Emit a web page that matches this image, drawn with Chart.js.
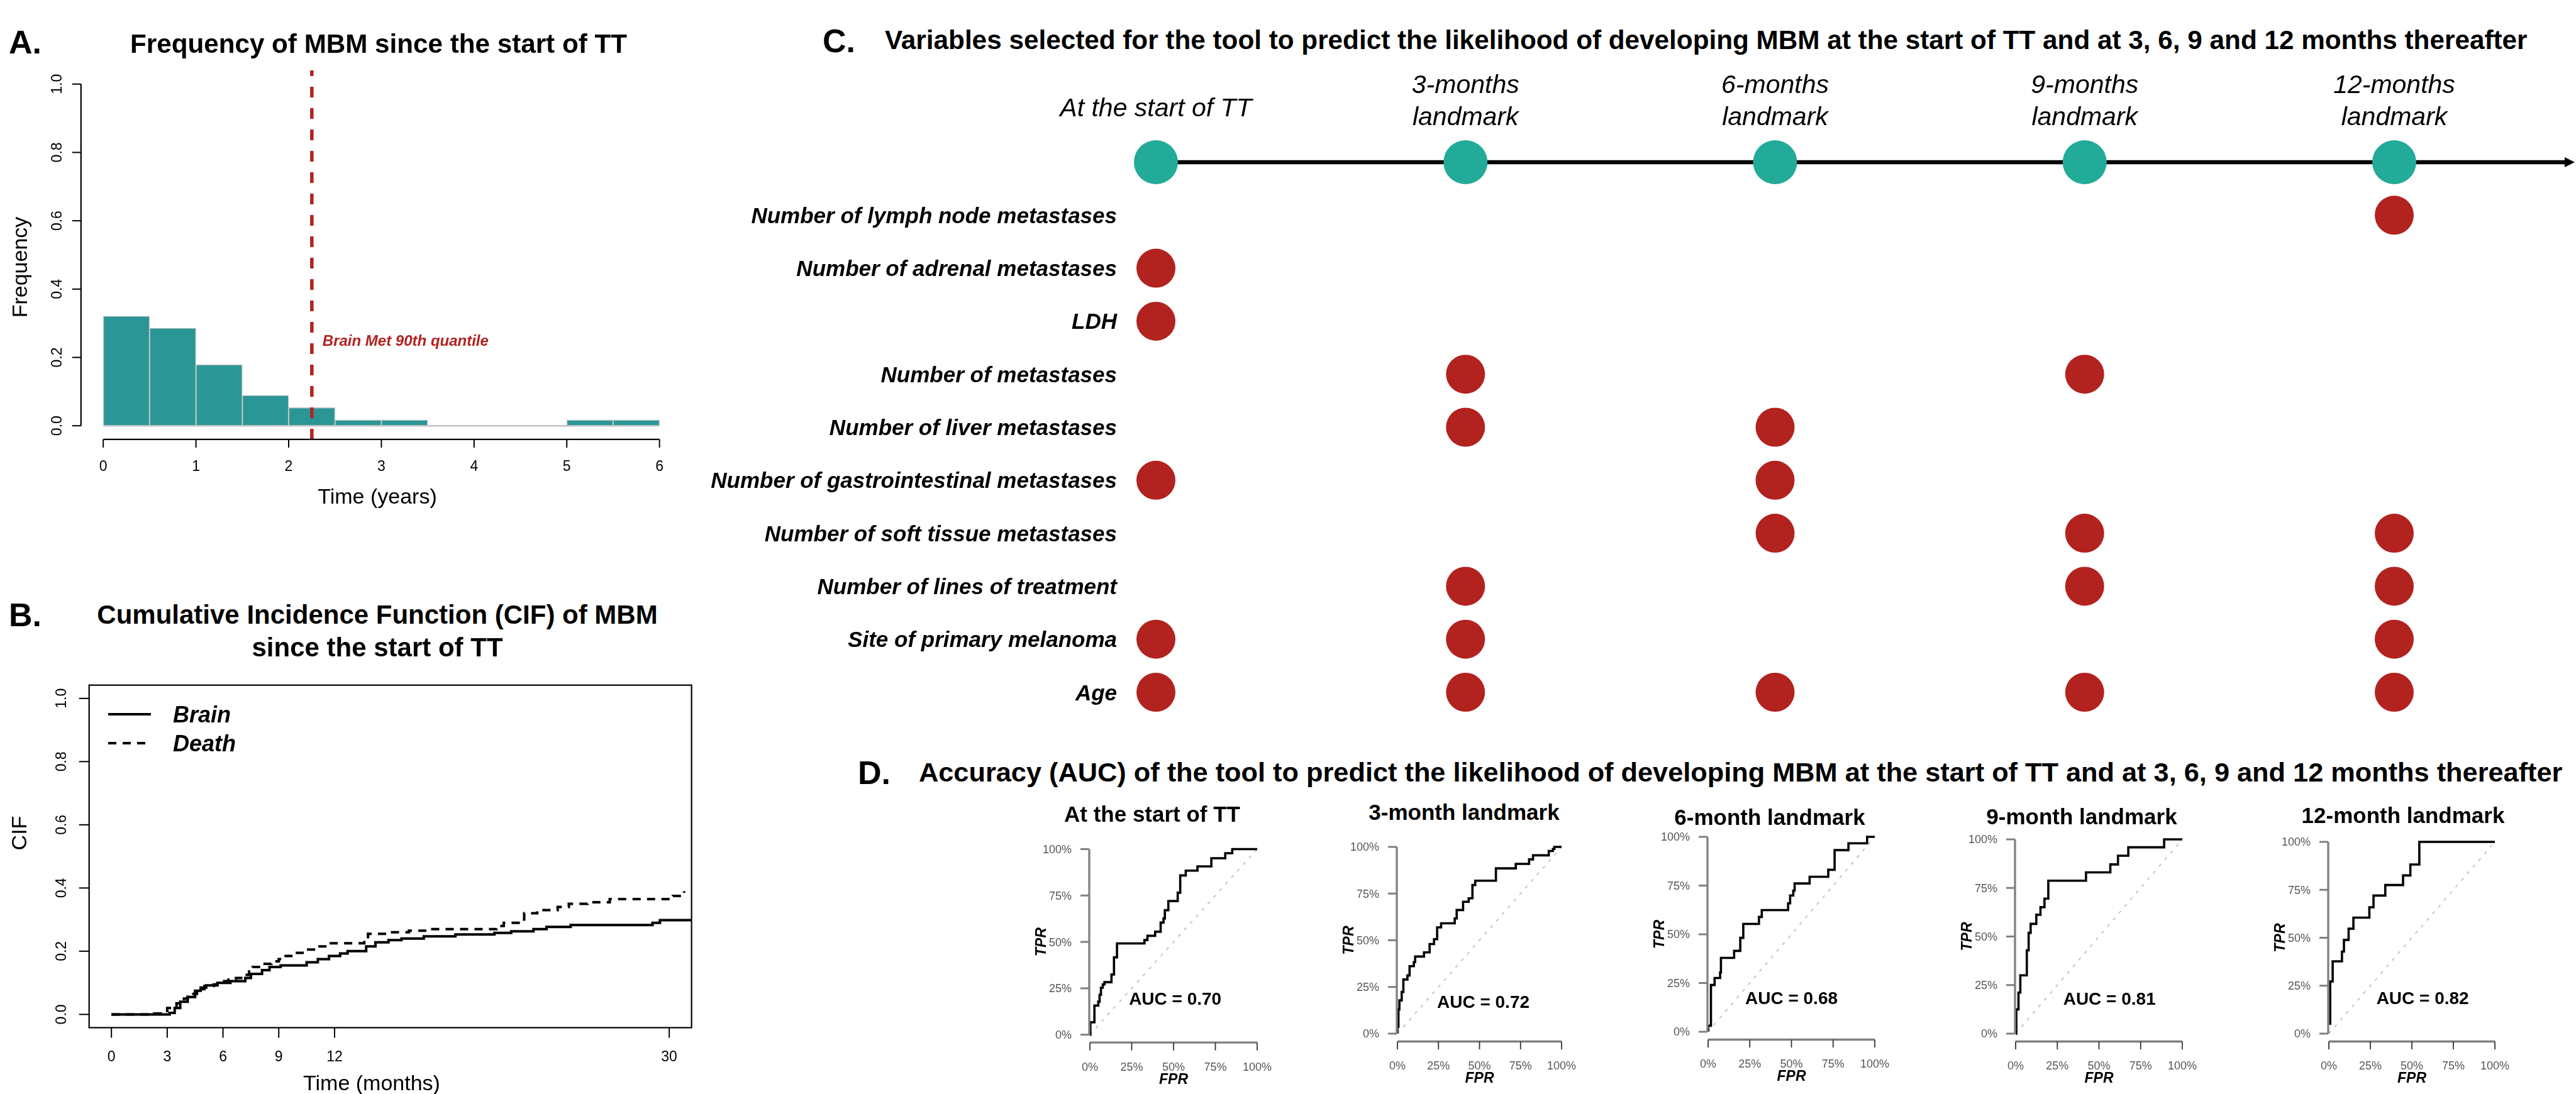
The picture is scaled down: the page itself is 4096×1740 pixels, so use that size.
<!DOCTYPE html>
<html>
<head>
<meta charset="utf-8">
<script src="https://cdn.jsdelivr.net/npm/chart.js@4.4.1/dist/chart.umd.min.js"></script>
<style>
  html, body { margin: 0; padding: 0; background: #fff; }
  #fig { position: relative; width: 4096px; height: 1740px; overflow: hidden; background: #fff; }
  #fig canvas { position: absolute; }
  .txt { position: absolute; white-space: nowrap; line-height: 1; color: #000;
         font-family: "Liberation Sans", Arial, Helvetica, sans-serif; }
</style>
</head>
<body>
<div id="fig"></div>
<script>
// ---------- data ----------
// A. histogram of time to MBM (years)
const histEdges = [0, 0.5, 1, 1.5, 2, 2.5, 3, 3.5, 4, 4.5, 5, 5.5, 6];
const histFreq = [0.321, 0.286, 0.179, 0.089, 0.053, 0.017, 0.017, 0, 0, 0, 0.017, 0.017];
const brainMet90 = 2.25;
const histXTicks = [0, 1, 2, 3, 4, 5, 6];
const histYTicks = [0, 0.2, 0.4, 0.6, 0.8, 1.0];
const histYTickLabels = ['0.0', '0.2', '0.4', '0.6', '0.8', '1.0'];

// B. cumulative incidence (months)
const cifBrainTime = [0, 3.13, 3.4, 3.7, 4.1, 4.5, 4.8, 5.1, 5.7, 6.4, 7.2, 7.5, 8.1, 8.5, 9.1, 10.5, 11.1, 11.7, 12.3, 12.7,
  13.7, 14.2, 14.9, 15.6, 16.8, 18.5, 20.6, 21.5, 22.7, 23.4, 24.7, 29.1, 29.5, 31.2];
const cifBrain = [0, 0.005, 0.02, 0.04, 0.055, 0.075, 0.085, 0.092, 0.1, 0.105, 0.115, 0.128, 0.14, 0.15, 0.155, 0.165, 0.175, 0.185, 0.193, 0.2,
  0.215, 0.228, 0.235, 0.24, 0.247, 0.253, 0.258, 0.263, 0.27, 0.277, 0.283, 0.29, 0.298, 0.298];
const cifDeathTime = [0, 2.3, 3.0, 3.5, 3.9, 4.1, 4.6, 5.0, 5.5, 5.7, 6.3, 6.7, 7.1, 7.4, 7.6, 8.1, 8.6, 9.0, 9.3, 9.8,
  10.5, 11.0, 11.6, 13.6, 13.8, 14.9, 16.0, 17.0, 20.7, 21.1, 21.9, 22.2, 22.9, 24.0, 24.6, 25.6, 26.8, 30.2, 30.8];
const cifDeath = [0, 0.003, 0.02, 0.035, 0.05, 0.065, 0.08, 0.09, 0.095, 0.105, 0.11, 0.115, 0.125, 0.14, 0.15, 0.16, 0.168, 0.175, 0.185, 0.195,
  0.205, 0.215, 0.225, 0.24, 0.255, 0.26, 0.265, 0.27, 0.28, 0.29, 0.3, 0.32, 0.33, 0.34, 0.35, 0.355, 0.365, 0.375, 0.39];
const cifXTicks = [0, 3, 6, 9, 12, 30];
const cifYTicks = [0, 0.2, 0.4, 0.6, 0.8, 1.0];
const cifYTickLabels = ['0.0', '0.2', '0.4', '0.6', '0.8', '1.0'];

// C. variables selected per landmark
const TIMELINE = 'timeline';
const landmarks = ['start', '3m', '6m', '9m', '12m'];
const landmarkHeaders = [['At the start of TT'], ['3-months', 'landmark'], ['6-months', 'landmark'], ['9-months', 'landmark'], ['12-months', 'landmark']];
const variableLabels = ['Number of lymph node metastases', 'Number of adrenal metastases', 'LDH', 'Number of metastases',
  'Number of liver metastases', 'Number of gastrointestinal metastases', 'Number of soft tissue metastases',
  'Number of lines of treatment', 'Site of primary melanoma', 'Age'];
const selStart = ['Number of adrenal metastases', 'LDH', 'Number of gastrointestinal metastases', 'Site of primary melanoma', 'Age'];
const sel3m = ['Number of metastases', 'Number of liver metastases', 'Number of lines of treatment', 'Site of primary melanoma', 'Age'];
const sel6m = ['Number of liver metastases', 'Number of gastrointestinal metastases', 'Number of soft tissue metastases', 'Age'];
const sel9m = ['Number of metastases', 'Number of soft tissue metastases', 'Number of lines of treatment', 'Age'];
const sel12m = ['Number of lymph node metastases', 'Number of soft tissue metastases', 'Number of lines of treatment', 'Site of primary melanoma', 'Age'];

// D. ROC curves
const rocTitles = ['At the start of TT', '3-month landmark', '6-month landmark', '9-month landmark', '12-month landmark'];
const rocAuc = ['0.70', '0.72', '0.68', '0.81', '0.82'];
const rocStartFpr = [0, 0.003, 0.027, 0.05, 0.058, 0.066, 0.077, 0.087, 0.129, 0.144, 0.162, 0.326, 0.344, 0.39, 0.423, 0.44, 0.448, 0.469, 0.525, 0.54, 0.573, 0.643, 0.726, 0.809, 0.851, 1.0];
const rocStartTpr = [0, 0.067, 0.157, 0.178, 0.215, 0.253, 0.271, 0.283, 0.324, 0.417, 0.492, 0.51, 0.533, 0.555, 0.604, 0.626, 0.671, 0.72, 0.765, 0.858, 0.884, 0.907, 0.951, 0.978, 1.0, 1.0];
const roc3mFpr = [0, 0, 0.006, 0.012, 0.026, 0.036, 0.061, 0.074, 0.100, 0.108, 0.162, 0.196, 0.223, 0.242, 0.266, 0.349, 0.361, 0.4, 0.434, 0.457, 0.474, 0.6, 0.721, 0.802, 0.826, 0.922, 0.947, 0.956, 1.0];
const roc3mTpr = [0, 0.037, 0.130, 0.178, 0.223, 0.290, 0.312, 0.361, 0.383, 0.413, 0.435, 0.48, 0.506, 0.569, 0.591, 0.617, 0.662, 0.706, 0.725, 0.796, 0.819, 0.885, 0.909, 0.933, 0.955, 0.978, 0.989, 1.0, 1.0];
const roc6mFpr = [0, 0, 0.017, 0.039, 0.072, 0.077, 0.156, 0.193, 0.211, 0.305, 0.322, 0.48, 0.492, 0.511, 0.519, 0.609, 0.721, 0.759, 0.842, 0.954, 1.0];
const roc6mTpr = [0, 0.031, 0.24, 0.276, 0.304, 0.379, 0.415, 0.482, 0.553, 0.589, 0.624, 0.659, 0.699, 0.724, 0.761, 0.795, 0.831, 0.932, 0.967, 1.0, 1.0];
const roc9mFpr = [0, 0.004, 0.004, 0.017, 0.028, 0.067, 0.078, 0.09, 0.124, 0.149, 0.173, 0.196, 0.422, 0.568, 0.614, 0.676, 0.891, 1.0];
const roc9mTpr = [0, 0.036, 0.125, 0.211, 0.3, 0.429, 0.519, 0.565, 0.612, 0.651, 0.695, 0.787, 0.83, 0.871, 0.916, 0.959, 1.0, 1.0];
const roc12mFpr = [0.008, 0.008, 0.023, 0.079, 0.091, 0.119, 0.148, 0.244, 0.269, 0.34, 0.447, 0.491, 0.545, 1.0];
const roc12mTpr = [0.046, 0.272, 0.377, 0.428, 0.489, 0.547, 0.605, 0.659, 0.72, 0.775, 0.825, 0.882, 1.0, 1.0];
const rocTicks = [0, 0.25, 0.5, 0.75, 1];
const rocTickLabels = ['0%', '25%', '50%', '75%', '100%'];

// ---------- helpers ----------
const FF = '"Liberation Sans", Arial, Helvetica, sans-serif';
const fig = document.getElementById('fig');
const RED = '#b2221f';

function font(size, weight, style) {
  return (style || 'normal') + ' ' + (weight || 'normal') + ' ' + size + 'px ' + FF;
}

// text with y = centre of capitals
function drawText(ctx, t, x, y) {
  ctx.save();
  ctx.font = font(t.size, t.weight, t.style);
  ctx.fillStyle = t.color || '#000';
  ctx.textAlign = t.align || 'center';
  ctx.textBaseline = 'alphabetic';
  ctx.translate(x, y);
  if (t.rotate) ctx.rotate(-Math.PI / 2);
  ctx.fillText(t.text, 0, 0.358 * t.size);
  ctx.restore();
}

function addText(txt, o) {
  const d = document.createElement('div');
  d.className = 'txt';
  d.textContent = txt;
  let size = o.size;
  d.style.fontSize = size + 'px';
  d.style.fontWeight = o.weight || 'normal';
  d.style.fontStyle = o.style || 'normal';
  fig.appendChild(d);
  if (o.fit) {
    size = size * o.fit / d.getBoundingClientRect().width;
    d.style.fontSize = size + 'px';
  }
  const w = d.getBoundingClientRect().width;
  d.style.left = (o.align === 'center' ? o.x - w / 2 : o.x) + 'px';
  d.style.top = (o.y - 0.49 * size) + 'px';
}

// free text in figure coordinates
const figText = {
  id: 'figText',
  afterDraw(chart, args, opts) {
    const ox = chart.canvas.offsetLeft, oy = chart.canvas.offsetTop;
    (opts.items || []).forEach(t => drawText(chart.ctx, t, t.x - ox, t.y - oy));
  }
};

// text anchored to data values
const dataText = {
  id: 'dataText',
  afterDatasetsDraw(chart, args, opts) {
    const xs = chart.scales.x, ys = chart.scales.y;
    (opts.items || []).forEach(t =>
      drawText(chart.ctx, t, xs.getPixelForValue(t.x) + (t.dx || 0), ys.getPixelForValue(t.y)));
  }
};

// R style axes drawn from the chart scales
const baseAxes = {
  id: 'baseAxes',
  afterDatasetsDraw(chart, args, opts) {
    const ctx = chart.ctx, a = chart.chartArea;
    const ox = chart.canvas.offsetLeft, oy = chart.canvas.offsetTop;
    ctx.save();
    if (opts.box) {
      ctx.strokeStyle = '#000';
      ctx.lineWidth = opts.box;
      ctx.strokeRect(a.left, a.top, a.right - a.left, a.bottom - a.top);
    }
    (opts.axes || []).forEach(ax => {
      const sc = chart.scales[ax.scale];
      const px = ax.values.map(v => sc.getPixelForValue(v));
      const horiz = sc.isHorizontal();
      const at = ax.lineAt - (horiz ? oy : ox);
      ctx.setLineDash([]);
      ctx.lineCap = 'butt';
      if (ax.lineWidth) {
        ctx.strokeStyle = ax.lineColor || '#000';
        ctx.lineWidth = ax.lineWidth;
        ctx.beginPath();
        if (horiz) { ctx.moveTo(px[0], at); ctx.lineTo(px[px.length - 1], at); }
        else { ctx.moveTo(at, px[0]); ctx.lineTo(at, px[px.length - 1]); }
        ctx.stroke();
      }
      ctx.strokeStyle = ax.tickColor || '#000';
      ctx.lineWidth = ax.tickWidth || 2;
      px.forEach(p => {
        ctx.beginPath();
        if (horiz) { ctx.moveTo(p, at); ctx.lineTo(p, at + ax.tickLen); }
        else { ctx.moveTo(at, p); ctx.lineTo(at - ax.tickLen, p); }
        ctx.stroke();
      });
      const lab = ax.labelAt - (horiz ? oy : ox);
      px.forEach((p, i) => {
        const t = { text: ax.labels[i], size: ax.size, color: ax.color, rotate: ax.rotate,
                    align: horiz || ax.rotate ? 'center' : 'right' };
        if (horiz) drawText(ctx, t, p, lab); else drawText(ctx, t, lab, p);
      });
    });
    ctx.restore();
  }
};

// legend with line samples
const lineKey = {
  id: 'lineKey',
  afterDraw(chart, args, opts) {
    if (!opts.ys) return;
    const ctx = chart.ctx, ox = chart.canvas.offsetLeft, oy = chart.canvas.offsetTop;
    chart.data.datasets.forEach((ds, i) => {
      const y = opts.ys[i] - oy;
      ctx.save();
      ctx.strokeStyle = ds.borderColor;
      ctx.lineWidth = ds.borderWidth;
      ctx.setLineDash(ds.borderDash || []);
      ctx.beginPath();
      ctx.moveTo(opts.x0 - ox, y);
      ctx.lineTo(opts.x1 - ox, y);
      ctx.stroke();
      ctx.restore();
      drawText(ctx, { text: ds.label, size: opts.size, weight: 'bold', style: 'italic', align: 'left' }, opts.tx - ox, y);
    });
  }
};

// timeline arrow, landmark headers and variable names
const landmarkDecor = {
  id: 'landmarkDecor',
  beforeDatasetsDraw(chart, args, opts) {
    if (!opts.arrowTo) return;
    const ctx = chart.ctx, ox = chart.canvas.offsetLeft;
    const xs = chart.scales.x, ys = chart.scales.y;
    const y = ys.getPixelForValue(TIMELINE);
    const x0 = xs.getPixelForValue(0), x1 = opts.arrowTo - ox;
    ctx.save();
    ctx.strokeStyle = '#000'; ctx.fillStyle = '#000';
    ctx.lineWidth = opts.lineWidth;
    ctx.beginPath(); ctx.moveTo(x0, y); ctx.lineTo(x1 - opts.head, y); ctx.stroke();
    ctx.beginPath();
    ctx.moveTo(x1, y); ctx.lineTo(x1 - opts.head, y - opts.headW); ctx.lineTo(x1 - opts.head, y + opts.headW);
    ctx.closePath(); ctx.fill();
    ctx.restore();
  },
  afterDatasetsDraw(chart, args, opts) {
    if (!opts.arrowTo) return;
    const ctx = chart.ctx, ox = chart.canvas.offsetLeft, oy = chart.canvas.offsetTop;
    const xs = chart.scales.x, ys = chart.scales.y;
    landmarkHeaders.forEach((lines, j) => {
      const x = xs.getPixelForValue(j);
      const yy = lines.length === 1 ? [opts.singleY] : opts.lineYs;
      lines.forEach((s, k) => drawText(ctx, { text: s, size: opts.headSize, style: 'italic' }, x, yy[k] - oy));
    });
    ys.getLabels().forEach((lab, i) => {
      if (lab === TIMELINE) return;
      drawText(ctx, { text: lab, size: opts.rowSize, weight: 'bold', style: 'italic', align: 'right' },
        opts.rowRight - ox, ys.getPixelForValue(i));
    });
  }
};

Chart.register(figText, dataText, baseAxes, lineKey, landmarkDecor);

function makeChart(box, area, config) {
  const c = document.createElement('canvas');
  c.width = box.w; c.height = box.h;
  c.style.left = box.x + 'px'; c.style.top = box.y + 'px';
  c.style.width = box.w + 'px'; c.style.height = box.h + 'px';
  fig.appendChild(c);
  const o = config.options;
  o.responsive = false;
  o.animation = false;
  o.devicePixelRatio = 1;
  o.events = [];
  o.layout = { padding: { left: area.l - box.x, top: area.t - box.y, right: box.x + box.w - area.r, bottom: box.y + box.h - area.b } };
  o.plugins = Object.assign({ legend: { display: false }, tooltip: { enabled: false } }, o.plugins || {});
  return new Chart(c, config);
}

const pairs = (xs, ys) => xs.map((x, i) => ({ x: x, y: ys[i] }));

// ---------- A. histogram ----------
const histY = { min: -0.04, max: 1.04 };
makeChart({ x: 0, y: 80, w: 1120, h: 760 }, { l: 128.8, t: 112, r: 1084, b: 698.9 }, {
  type: 'bar',
  data: {
    datasets: [
      { type: 'line', data: [{ x: brainMet90, y: histY.min }, { x: brainMet90, y: histY.max }],
        borderColor: RED, borderWidth: 5.5, borderDash: [17, 17], pointRadius: 0, order: 0 },
      { type: 'bar', data: histFreq.map((f, i) => ({ x: (histEdges[i] + histEdges[i + 1]) / 2, y: f })),
        backgroundColor: '#2a9696', borderColor: '#c3c3c3', borderWidth: 1.4, borderSkipped: false,
        barPercentage: 1, categoryPercentage: 1, order: 1 },
      { type: 'line', data: [{ x: histEdges[0], y: 0 }, { x: histEdges[histEdges.length - 1], y: 0 }],
        borderColor: '#c3c3c3', borderWidth: 2.5, pointRadius: 0, order: 2 }
    ]
  },
  options: {
    scales: {
      x: { type: 'linear', min: -0.24, max: 6.24, offset: false, display: false,
           afterBuildTicks: s => { s.ticks = histEdges.map(v => ({ value: v })); } },
      y: { type: 'linear', min: histY.min, max: histY.max, display: false }
    },
    plugins: {
      baseAxes: { axes: [
        { scale: 'x', values: histXTicks, labels: histXTicks.map(String), lineAt: 698.9, lineWidth: 2.2,
          tickLen: 13, labelAt: 741, size: 23 },
        { scale: 'y', values: histYTicks, labels: histYTickLabels, lineAt: 128.8, lineWidth: 2.2,
          tickLen: 14, labelAt: 90, size: 23, rotate: true }
      ] },
      dataText: { items: [{ text: 'Brain Met 90th quantile', x: brainMet90, dx: 17, y: 0.25, size: 24,
                            weight: 'bold', style: 'italic', color: RED, align: 'left' }] },
      figText: { items: [
        { text: 'Time (years)', x: 600, y: 789, size: 34 },
        { text: 'Frequency', x: 31, y: 425, size: 34, rotate: true }
      ] }
    }
  }
});

// ---------- B. cumulative incidence ----------
makeChart({ x: 0, y: 1050, w: 1120, h: 690 }, { l: 141.7, t: 1089.7, r: 1099.6, b: 1634.5 }, {
  type: 'line',
  data: {
    datasets: [
      { label: 'Brain', data: pairs(cifBrainTime, cifBrain), stepped: 'before', borderColor: '#000',
        borderWidth: 4, pointRadius: 0 },
      { label: 'Death', data: pairs(cifDeathTime, cifDeath), stepped: 'before', borderColor: '#000',
        borderWidth: 4, borderDash: [13, 10], pointRadius: 0 }
    ]
  },
  options: {
    scales: {
      x: { type: 'linear', min: -1.2, max: 31.2, display: false },
      y: { type: 'linear', min: -0.042, max: 1.042, display: false }
    },
    plugins: {
      baseAxes: { box: 2.2, axes: [
        { scale: 'x', values: cifXTicks, labels: cifXTicks.map(String), lineAt: 1634.5, tickLen: 16, labelAt: 1680, size: 23 },
        { scale: 'y', values: cifYTicks, labels: cifYTickLabels, lineAt: 141.7, tickLen: 16, labelAt: 97, size: 23, rotate: true }
      ] },
      lineKey: { ys: [1136, 1182], x0: 172, x1: 240, tx: 275, size: 36 },
      figText: { items: [
        { text: 'Time (months)', x: 591, y: 1722, size: 34 },
        { text: 'CIF', x: 30, y: 1325, size: 34, rotate: true }
      ] }
    }
  }
});

// ---------- C. selected variables ----------
const selections = [selStart, sel3m, sel6m, sel9m, sel12m];
const selPoints = [];
selections.forEach((vars, j) => vars.forEach(v => selPoints.push({ x: landmarks[j], y: v })));
makeChart({ x: 1060, y: 95, w: 3036, h: 1060 }, { l: 1838, t: 258, r: 3807, b: 1101 }, {
  type: 'scatter',
  data: {
    datasets: [
      { data: landmarks.map(l => ({ x: l, y: TIMELINE })), pointRadius: 35, pointBackgroundColor: '#22ab98',
        pointBorderWidth: 0, clip: false },
      { data: selPoints, pointRadius: 31, pointBackgroundColor: RED, pointBorderWidth: 0, clip: false }
    ]
  },
  options: {
    scales: {
      x: { type: 'category', labels: landmarks, offset: false, display: false },
      y: { type: 'category', labels: [TIMELINE].concat(variableLabels), offset: false, display: false }
    },
    plugins: {
      landmarkDecor: { arrowTo: 4094, lineWidth: 6.5, head: 16, headW: 8, singleY: 170, lineYs: [133, 184],
                       headSize: 41, rowSize: 35, rowRight: 1776 }
    }
  }
});

// ---------- D. ROC curves ----------
const rocSets = [
  pairs(rocStartFpr, rocStartTpr), pairs(roc3mFpr, roc3mTpr), pairs(roc6mFpr, roc6mTpr),
  pairs(roc9mFpr, roc9mTpr), pairs(roc12mFpr, roc12mTpr)
];
const rocAreas = [
  { l: 1733, t: 1350.5, r: 1999, b: 1645.7 },
  { l: 2222, t: 1347, r: 2483, b: 1644 },
  { l: 2716, t: 1331, r: 2981, b: 1641 },
  { l: 3205, t: 1335, r: 3470, b: 1644 },
  { l: 3703, t: 1339, r: 3967, b: 1644 }
];
const rocTitleX = [1832, 2328, 2814, 3310, 3821];
const rocTitleY = [1294, 1291, 1299, 1298, 1296];
const aucPos = [[0.51, 0.197], [0.523, 0.172], [0.5, 0.173], [0.563, 0.182], [0.565, 0.186]];

rocSets.forEach((pts, i) => {
  const a = rocAreas[i];
  const midX = (a.l + a.r) / 2, midY = (a.t + a.b) / 2;
  makeChart({ x: a.l - 118, y: 1312, w: a.r - a.l + 160, h: 1740 - 1312 }, a, {
    type: 'line',
    data: {
      datasets: [
        { data: pts, stepped: 'before', borderColor: '#000', borderWidth: 3.6, pointRadius: 0, clip: false },
        { data: [{ x: 0, y: 0 }, { x: 1, y: 1 }], borderColor: '#c4c4c4', borderWidth: 2, borderDash: [5, 9], pointRadius: 0 }
      ]
    },
    options: {
      scales: {
        x: { type: 'linear', min: 0, max: 1, display: false },
        y: { type: 'linear', min: 0, max: 1, display: false }
      },
      plugins: {
        baseAxes: { axes: [
          { scale: 'x', values: rocTicks, labels: rocTickLabels, lineAt: a.b + 12.5, lineWidth: 3.3, lineColor: '#808080',
            tickLen: 12.5, tickColor: '#333', tickWidth: 1.8, labelAt: a.b + 51, size: 18, color: '#555' },
          { scale: 'y', values: rocTicks, labels: rocTickLabels, lineAt: a.l - 1, lineWidth: 3.3, lineColor: '#808080',
            tickLen: 14, tickColor: '#808080', tickWidth: 3, labelAt: a.l - 29, size: 18, color: '#555' }
        ] },
        dataText: { items: [{ text: 'AUC = ' + rocAuc[i], x: aucPos[i][0], y: aucPos[i][1], size: 28, weight: 'bold' }] },
        figText: { items: [
          { text: 'FPR', x: midX, y: a.b + 70, size: 23, weight: 'bold', style: 'italic' },
          { text: 'TPR', x: a.l - 78, y: midY, size: 23, weight: 'bold', style: 'italic', rotate: true }
        ] }
      }
    }
  });
  addText(rocTitles[i], { x: rocTitleX[i], y: rocTitleY[i], size: 35, weight: 'bold', align: 'center' });
});

// ---------- panel titles ----------
addText('A.', { x: 14, y: 66, size: 52, weight: 'bold' });
addText('Frequency of MBM since the start of TT', { x: 602, y: 69.5, size: 42, weight: 'bold', align: 'center', fit: 790 });
addText('B.', { x: 14, y: 977, size: 52, weight: 'bold' });
addText('Cumulative Incidence Function (CIF) of MBM', { x: 600, y: 978, size: 42, weight: 'bold', align: 'center' });
addText('since the start of TT', { x: 600, y: 1030, size: 42, weight: 'bold', align: 'center' });
addText('C.', { x: 1308, y: 64, size: 52, weight: 'bold' });
addText('Variables selected for the tool to predict the likelihood of developing MBM at the start of TT and at 3, 6, 9 and 12 months thereafter',
  { x: 1407, y: 64, size: 42, weight: 'bold', fit: 2613 });
addText('D.', { x: 1364, y: 1228, size: 52, weight: 'bold' });
addText('Accuracy (AUC) of the tool to predict the likelihood of developing MBM at the start of TT and at 3, 6, 9 and 12 months thereafter',
  { x: 1461, y: 1228, size: 42, weight: 'bold', fit: 2614 });
</script>
</body>
</html>
